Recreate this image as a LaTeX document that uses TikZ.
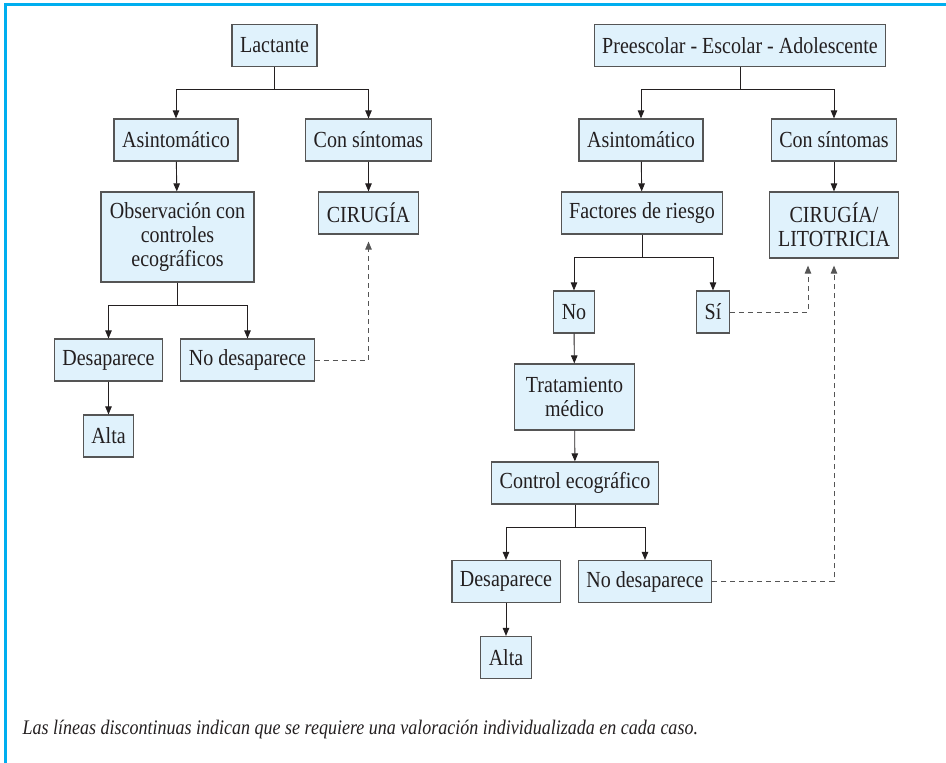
\documentclass[tikz,border=0pt]{standalone}
\usepackage{fontspec}
\setmainfont[FakeStretch=0.87]{Liberation Serif}
\usetikzlibrary{arrows.meta}
\definecolor{marco}{RGB}{0,174,239}
\definecolor{fondo}{RGB}{224,242,252}
\definecolor{borde}{RGB}{85,85,85}
\definecolor{tinta}{RGB}{35,31,32}
\begin{document}
\begin{tikzpicture}[x=1pt,y=-1pt,
  caja/.style={draw=borde,fill=fondo,line width=1.2pt,text=tinta,align=center,
    minimum height=42pt,inner xsep=8pt,inner ysep=3pt,font=\fontsize{23}{24}\selectfont},
  flecha/.style={draw=tinta,line width=0.9pt,-{Triangle[length=8pt,width=6.5pt]}},
  discont/.style={draw=borde,line width=0.9pt,dash pattern=on 5pt off 4pt,
    -{Triangle[length=8pt,width=6.5pt]},shorten >=7pt}]
\useasboundingbox (0,0) rectangle (946,763);
\draw[marco,line width=2.5pt] (5.5,763) -- (5.5,4.5) -- (946,4.5);
\node[caja] (lact) at (274.5,45.5) {Lactante};
\node[caja] (asinL) at (176,140) {Asintomático};
\node[caja] (conL) at (368.5,140) {Con síntomas};
\node[caja,minimum width=153pt,minimum height=90pt] (obs) at (177.5,237) {Observación con\\controles\\ecográficos};
\node[caja] (cirL) at (368.5,213) {CIRUGÍA};
\node[caja] (desL) at (108.5,360) {Desaparece};
\node[caja] (nodesL) at (247.5,360) {No desaparece};
\node[caja] (altaL) at (108.5,436) {Alta};
\node[caja] (pre) at (740,45.5) {Preescolar - Escolar - Adolescente};
\node[caja] (asinR) at (641,140) {Asintomático};
\node[caja] (conR) at (834,140) {Con síntomas};
\node[caja] (fact) at (642,213) {Factores de riesgo};
\node[caja,minimum width=129pt,minimum height=66pt] (cirR) at (834,225) {CIRUGÍA/\\LITOTRICIA};
\node[caja] (no) at (574,312) {No};
\node[caja] (si) at (713,312) {Sí};
\node[caja,minimum width=120pt,minimum height=66pt] (trat) at (574.5,397) {Tratamiento\\médico};
\node[caja] (ctrl) at (575,483) {Control ecográfico};
\node[caja] (desR) at (506,581.5) {Desaparece};
\node[caja] (nodesR) at (645,581.5) {No desaparece};
\node[caja] (altaR) at (506,657.5) {Alta};
\draw[flecha] (lact.south) -- ++(0,22) -| (asinL);
\draw[flecha] (lact.south) -- ++(0,22) -| (conL);
\draw[flecha] (asinL) -- (obs);
\draw[flecha] (conL) -- (cirL);
\draw[flecha] (obs.south) -- ++(0,23) -| (desL);
\draw[flecha] (obs.south) -- ++(0,23) -| (nodesL);
\draw[flecha] (desL) -- (altaL);
\draw[discont] (nodesL.east) -| (cirL.south);
\draw[flecha] (pre.south) -- ++(0,22) -| (asinR);
\draw[flecha] (pre.south) -- ++(0,22) -| (conR);
\draw[flecha] (asinR) -- (fact);
\draw[flecha] (conR) -- (cirR);
\draw[flecha] (fact.south) -- ++(0,23) -| (no);
\draw[flecha] (fact.south) -- ++(0,23) -| (si);
\draw[flecha] (no) -- (trat);
\draw[flecha] (trat) -- (ctrl);
\draw[flecha] (ctrl.south) -- ++(0,23) -| (desR);
\draw[flecha] (ctrl.south) -- ++(0,23) -| (nodesR);
\draw[flecha] (desR) -- (altaR);
\draw[discont] (si.east) -| ([xshift=-26pt]cirR.south);
\draw[discont] (nodesR.east) -| (cirR.south);
\node[anchor=west,text=tinta,font=\fontsize{20.7}{24}\selectfont\itshape] (nota) at (19,730) {Las líneas discontinuas indican que se requiere una valoración individualizada en cada caso.};
\end{tikzpicture}
\end{document}
